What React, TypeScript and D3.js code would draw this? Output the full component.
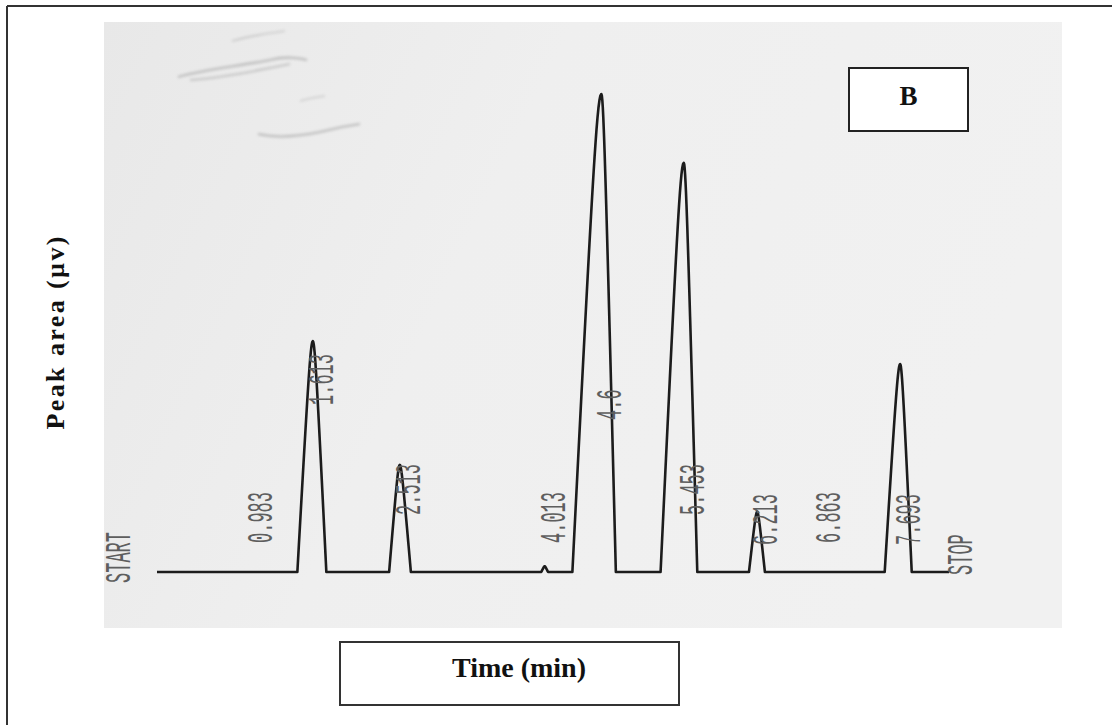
import React from 'react';
import * as d3 from 'd3';

// Retention times printed on the chromatogram (min)
const retentionTimes = [0.983, 1.613, 2.513, 4.013, 4.6, 5.453, 6.213, 6.863, 7.693];
const timeLabels = ['0.983', '1.613', '2.513', '4.013', '4.6', '5.453', '6.213', '6.863', '7.693'];
// Relative peak response (tallest peak = 100)
const peakHeights = [0, 48.3, 22.4, 1.2, 100, 85.6, 12.6, 0, 43.5];
// Peak half-widths at the base (min), leading and tailing side
const leftWidths = [0.03, 0.16, 0.11, 0.035, 0.3, 0.24, 0.085, 0.03, 0.16];
const rightWidths = [0.03, 0.14, 0.115, 0.035, 0.15, 0.14, 0.08, 0.03, 0.12];
const runStart = 0;
const runStop = 8.2;
const startLabel = 'START';
const stopLabel = 'STOP';
const panelLabel = 'B';
const xTitle = 'Time (min)';
const yTitle = 'Peak area (µv)';

const W = 1112;
const H = 725;

export default function App() {
  const xs = d3.scaleLinear().domain([0, 8.2]).range([157, 157 + 96.6 * 8.2]);
  const ys = d3.scaleLinear().domain([0, 100]).range([572, 94]);

  // trace points
  const a = 0.2;
  const norm = Math.sqrt(1 + a * a) - a;
  const shape = (u: number) => 1 - (Math.sqrt(u * u + a * a) - a) / norm;
  const pts: [number, number][] = [[runStart, 0]];
  retentionTimes.forEach((t, i) => {
    const h = peakHeights[i];
    if (h <= 0) return;
    const n = 30;
    for (let k = -n; k <= n; k++) {
      const u = k / n;
      const tt = u < 0 ? t + u * leftWidths[i] : t + u * rightWidths[i];
      pts.push([tt, h * shape(Math.abs(u))]);
    }
  });
  pts.push([runStop, 0]);
  const line = d3
    .line<[number, number]>()
    .x((d) => xs(d[0]))
    .y((d) => ys(d[1]));

  // layout: bottom y of each printed label
  const labelBottom = [543, 405, 515, 543, 420, 515, 545, 543, 545];
  const labelOffset = 20;
  const printFont = { fontFamily: 'Liberation Mono, monospace', fontSize: 17, fill: '#5e5e5e' };
  const stretch = 2.2;

  return (
    <svg
      width={W}
      height={H}
      style={{ position: 'absolute', left: 0, top: 0, background: '#fff' }}
    >
      <defs>
        <linearGradient id="paper" x1="0" y1="0" x2="1" y2="0.3">
          <stop offset="0" stopColor="#e8e8e8" />
          <stop offset="0.45" stopColor="#efefef" />
          <stop offset="1" stopColor="#f1f1f1" />
        </linearGradient>
        <filter id="blur" x="-20%" y="-50%" width="140%" height="200%">
          <feGaussianBlur stdDeviation="1.6" />
        </filter>
      </defs>
      {/* outer frame */}
      <line x1={7} y1={6} x2={7} y2={H} stroke="#333" strokeWidth={2} />
      <line x1={7} y1={6} x2={W} y2={6} stroke="#333" strokeWidth={2} />
      {/* scanned paper */}
      <rect x={104} y={22} width={958} height={606} fill="url(#paper)" />
      {/* smudges */}
      <g filter="url(#blur)" stroke="#8f8f8f" fill="none" opacity={0.55}>
        <path d="M178,77 C200,70 240,66 270,60 C285,56 300,58 307,60" strokeWidth={2.2} />
        <path d="M190,80 C220,78 250,72 290,64" strokeWidth={1.4} />
        <path d="M232,41 C250,36 270,33 285,31" strokeWidth={1.2} />
        <path d="M258,134 C275,138 300,136 320,132 C335,128 345,126 360,124" strokeWidth={2} />
        <path d="M300,101 C310,98 318,97 325,96" strokeWidth={1} />
      </g>
      {/* chromatogram trace */}
      <path
        d={line(pts) || ''}
        fill="none"
        stroke="#1c1c1c"
        strokeWidth={2.6}
        strokeLinejoin="round"
      />
      {/* printed retention times */}
      {timeLabels.map((lab, i) => (
        <text
          key={lab}
          transform={`translate(${xs(retentionTimes[i]) + labelOffset},${labelBottom[i]}) rotate(-90) scale(1,${stretch})`}
          {...printFont}
        >
          {lab}
        </text>
      ))}
      <text
        transform={`translate(${xs(runStart) - 27},583) rotate(-90) scale(1,${stretch})`}
        {...printFont}
      >
        {startLabel}
      </text>
      <text
        transform={`translate(${xs(runStop) + 23},575) rotate(-90) scale(1,${stretch})`}
        {...printFont}
      >
        {stopLabel}
      </text>
      {/* panel letter */}
      <rect x={849} y={68} width={119} height={63} fill="#fff" stroke="#222" strokeWidth={2} />
      <text
        x={908.5}
        y={105}
        textAnchor="middle"
        fontFamily="Liberation Serif, serif"
        fontWeight="bold"
        fontSize={27}
        fill="#111"
      >
        {panelLabel}
      </text>
      {/* x title */}
      <rect x={340} y={642} width={339} height={63} fill="#fff" stroke="#333" strokeWidth={2} />
      <text
        x={519}
        y={677}
        textAnchor="middle"
        fontFamily="Liberation Serif, serif"
        fontWeight="bold"
        fontSize={28}
        fill="#111"
      >
        {xTitle}
      </text>
      {/* y title */}
      <text
        transform="translate(64,333) rotate(-90)"
        textAnchor="middle"
        fontFamily="Liberation Serif, serif"
        fontWeight="bold"
        fontSize={26}
        textLength={193}
        lengthAdjust="spacing"
        fill="#111"
      >
        {yTitle}
      </text>
    </svg>
  );
}
